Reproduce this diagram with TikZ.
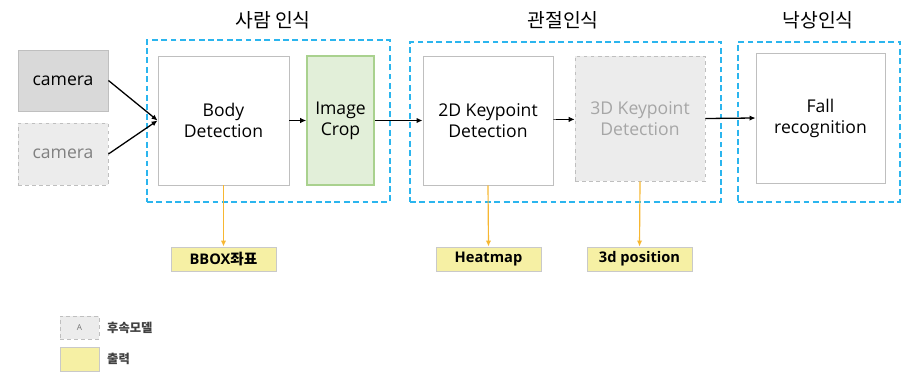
\documentclass[tikz,border=0pt]{standalone}
\usepackage{fontspec}
\setmainfont{Open Sans}
\newfontfamily\kr{Noto Sans CJK KR}
\usetikzlibrary{arrows.meta}
\definecolor{grpblue}{HTML}{2BB5EE}
\definecolor{boxgray}{HTML}{BFBFBF}
\definecolor{camfill}{HTML}{D9D9D9}
\definecolor{ghostfill}{HTML}{ECECEC}
\definecolor{ghosttext}{HTML}{A6A6A6}
\definecolor{cropfill}{HTML}{E2EFD9}
\definecolor{cropline}{HTML}{A9D18E}
\definecolor{outfill}{HTML}{F6F0A4}
\definecolor{outline}{HTML}{C9C9C9}
\definecolor{outarrow}{HTML}{F7B731}
\begin{document}
\begin{tikzpicture}[
        x=0.03cm, y=-0.03cm,
        every node/.style={font=\fontsize{15}{18}\selectfont, align=center, inner sep=0pt},
        block/.style={rectangle, draw=boxgray, line width=0.8pt, fill=white},
        ghost/.style={rectangle, draw=boxgray, dashed, line width=0.8pt, fill=ghostfill, text=ghosttext},
        group/.style={rectangle, draw=grpblue, line width=1.3pt, dash pattern=on 5pt off 3pt},
        title/.style={font=\kr\fontsize{16.5}{20}\selectfont},
        output/.style={rectangle, draw=outline, line width=0.8pt, fill=outfill, minimum width=3.15cm, minimum height=0.72cm, font=\bfseries\fontsize{12.5}{15}\selectfont},
        legtext/.style={anchor=west, font=\kr\bfseries\fontsize{10.5}{12}\selectfont, text=black!75},
        >={Latex[length=5pt,width=4.5pt]}
        ]
      \useasboundingbox[fill=white] (0,0) rectangle (905,372);

      % groups and titles
      \node[group, minimum width=7.29cm, minimum height=4.86cm] (g1) at (268.5,121) {};
      \node[group, minimum width=9.33cm, minimum height=4.8cm] (g2) at (565.5,122) {};
      \node[group, minimum width=4.86cm, minimum height=4.8cm] (g3) at (819,122) {};
      \node[title] (t1) at (273,20) {사람 인식};
      \node[title] (t2) at (563,20) {관절인식};
      \node[title] (t3) at (818,20) {낙상인식};

      % cameras
      \node[block, fill=camfill, minimum width=2.7cm, minimum height=1.83cm] (cam1) at (63,80.5) {camera};
      \node[ghost, minimum width=2.7cm, minimum height=1.86cm, text=black!50] (cam2) at (63,154) {camera};

      % stages
      \node[block, minimum width=3.93cm, minimum height=3.87cm] (body) at (223.5,120.5) {Body\\Detection};
      \node[block, draw=cropline, line width=1.6pt, fill=cropfill, minimum width=2.01cm, minimum height=3.87cm] (crop) at (340.5,120.5) {Image\\Crop};
      \node[block, minimum width=3.9cm, minimum height=3.87cm] (kp2d) at (488,120.5) {2D Keypoint\\Detection};
      \node[ghost, minimum width=3.9cm, minimum height=3.75cm] (kp3d) at (640,118.5) {3D Keypoint\\Detection};
      \node[block, minimum width=3.87cm, minimum height=3.9cm] (fall) at (820.5,118) {Fall\\recognition};

      % outputs
      \node[output] (bbox) at (223.5,259) {BBOX{\kr 좌표}};
      \node[output] (heat) at (488.5,259) {Heatmap};
      \node[output] (pos3d) at (639.5,259) {3d position};

      \draw[->, line width=1.1pt] (cam1.east) -- (body.west);
      \draw[->, line width=1.1pt] (cam2.east) -- (body.west);
      \draw[->, line width=0.6pt] (body) -- (crop);
      \draw[->, line width=1.1pt] (crop) -- (kp2d);
      \draw[->, line width=0.6pt] (kp2d) -- (kp3d);
      \draw[->, line width=1.1pt] (kp3d.east) -- (fall.west);

      \draw[->, outarrow, line width=1pt] (body.south) -- (bbox.north);
      \draw[->, outarrow, line width=1pt] (kp2d.south) -- (heat.north);
      \draw[->, outarrow, line width=1pt] (kp3d.south) -- (pos3d.north);

      % legend
      \node[ghost, minimum width=1.17cm, minimum height=0.69cm, font=\fontsize{7}{8}\selectfont, text=black!55] (leg1) at (79.5,327.5) {A};
      \node[rectangle, draw=outline, line width=0.8pt, fill=outfill, minimum width=1.17cm, minimum height=0.72cm] (leg2) at (79.5,359) {};
      \node[legtext] (leg1t) at (107,327.5) {후속모델};
      \node[legtext] (leg2t) at (107,359) {출력};

    \end{tikzpicture}
\end{document}
